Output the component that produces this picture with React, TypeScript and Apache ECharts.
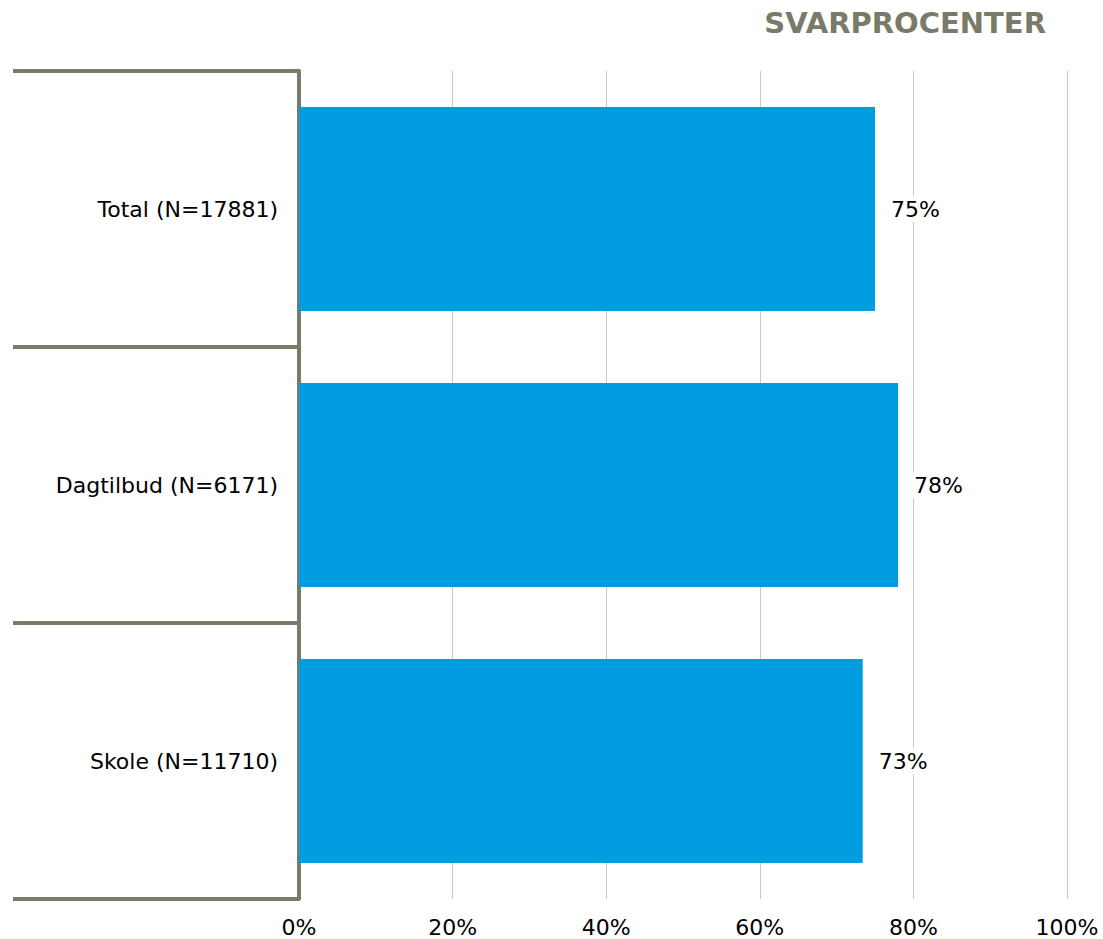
import React, { useEffect, useRef } from "react";
import * as echarts from "echarts";

const categories = ["Total (N=17881)", "Dagtilbud (N=6171)", "Skole (N=11710)"];
const values = [75.0, 78.0, 73.4];
const xTicks = [0, 20, 40, 60, 80, 100];
const title = "SVARPROCENTER";

export default function App() {
  const ref = useRef<HTMLDivElement>(null);
  useEffect(() => {
    if (!ref.current) return;
    const chart = echarts.init(ref.current, null, { renderer: "svg" });
    const font = "'DejaVu Sans', Verdana, sans-serif";
    chart.setOption({
      animation: false,
      textStyle: { fontFamily: font },
      title: {
        text: title,
        right: 52,
        top: 3,
        textStyle: { fontFamily: font, fontSize: 29, fontWeight: "bold", color: "#7a7a68" },
      },
      grid: { left: 299, right: 36, top: 71, bottom: 40, containLabel: false },
      xAxis: {
        type: "value",
        min: xTicks[0],
        max: xTicks[xTicks.length - 1],
        interval: 20,
        axisLine: { show: false },
        axisTick: { show: false },
        splitLine: { show: true, lineStyle: { color: "#c8c8c0", width: 1 } },
        axisLabel: {
          formatter: (v: number) => `${v}%`,
          fontSize: 22,
          color: "#000",
          margin: 17,
          fontFamily: font,
        },
      },
      yAxis: {
        type: "category",
        data: categories,
        inverse: true,
        axisLine: { show: true, lineStyle: { color: "#7a7a68", width: 4 } },
        axisTick: { show: true, length: 286, lineStyle: { color: "#7a7a68", width: 4 } },
        axisLabel: { fontSize: 22, color: "#000", margin: 21, fontFamily: font },
        splitLine: { show: false },
      },
      series: [
        {
          type: "bar",
          data: values,
          barWidth: 204,
          itemStyle: { color: "#009ee0" },
          label: {
            show: true,
            position: "right",
            distance: 12,
            formatter: (p: any) => `${Math.round(p.value)}%`,
            fontSize: 22,
            color: "#000",
            backgroundColor: "#fff",
            padding: [2, 4],
            fontFamily: font,
          },
        },
      ],
    });
    return () => chart.dispose();
  }, []);
  return (
    <div
      ref={ref}
      style={{ position: "fixed", left: 0, top: 0, width: 1103, height: 939, background: "#fff" }}
    />
  );
}
